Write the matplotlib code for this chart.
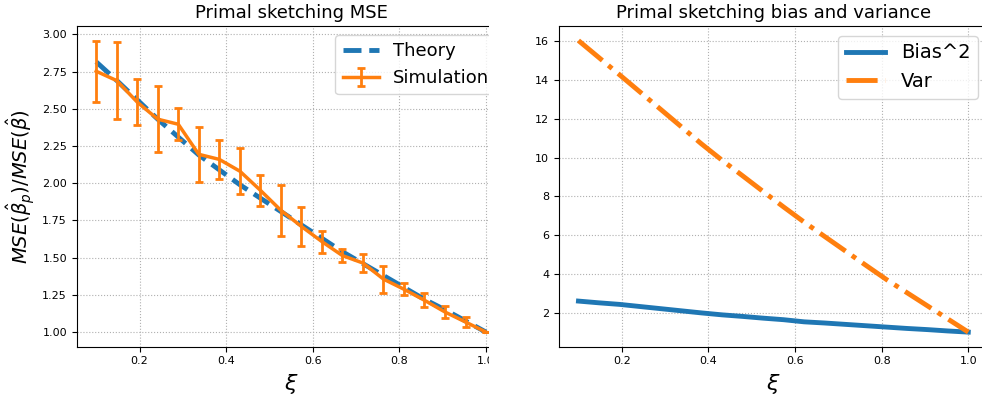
import numpy as np
from matplotlib import pyplot as plt
from matplotlib.patches import Rectangle

# sketch fraction, 20 points from 0.1 to 1.0
xi = [0.1, 0.1474, 0.1947, 0.2421, 0.2895, 0.3368, 0.3842, 0.4316, 0.4789, 0.5263,
      0.5737, 0.6211, 0.6684, 0.7158, 0.7632, 0.8105, 0.8579, 0.9053, 0.9526, 1.0]

mse_theory = [2.815, 2.69, 2.56, 2.43, 2.31, 2.19, 2.09, 1.99, 1.90, 1.81,
              1.72, 1.63, 1.54, 1.46, 1.38, 1.30, 1.22, 1.15, 1.075, 1.0]
mse_sim = [2.752, 2.689, 2.545, 2.43, 2.396, 2.194, 2.16, 2.081, 1.953, 1.818,
           1.71, 1.608, 1.514, 1.464, 1.356, 1.288, 1.214, 1.135, 1.068, 1.0]
mse_err = [0.206, 0.26, 0.152, 0.223, 0.107, 0.186, 0.13, 0.155, 0.104, 0.171,
           0.132, 0.074, 0.044, 0.063, 0.09, 0.04, 0.047, 0.04, 0.036, 0.0]

bias2 = [2.60, 2.51, 2.43, 2.32, 2.21, 2.10, 1.99, 1.89, 1.81, 1.72,
         1.64, 1.53, 1.47, 1.40, 1.33, 1.26, 1.19, 1.13, 1.06, 1.0]
var = [16.03, 15.15, 14.27, 13.38, 12.49, 11.60, 10.70, 9.86, 9.06, 8.25,
       7.45, 6.67, 5.93, 5.19, 4.45, 3.72, 3.04, 2.36, 1.68, 1.0]


def main():
    fig = plt.figure(figsize=(9.82, 3.98), dpi=100)

    ax1 = fig.add_axes([0.0781, 0.1289, 0.4367, 0.8058])
    ax1.plot(xi, mse_theory, '--', color='C0', lw=3.5, label='Theory')
    ax1.errorbar(xi, mse_sim, yerr=mse_err, color='C1', lw=2.5,
                 elinewidth=2, capsize=3, capthick=2, label='Simulation')
    ax1.grid(True, linestyle=':', color='#b0b0b0')
    ax1.set_title('Primal sketching MSE', fontsize=13)
    ax1.set_xlabel(r'$\xi$', fontsize=16)
    ax1.set_ylabel(r'$MSE(\hat{\beta}_p)/MSE(\hat{\beta})$', fontsize=14)
    ax1.tick_params(labelsize=8)
    ax1.legend(loc='upper right', fontsize=13)

    ax2 = fig.add_axes([0.5692, 0.1289, 0.4367, 0.8058])
    ax2.plot(xi, bias2, '-', color='C0', lw=3.5, label='Bias^2')
    ax2.plot(xi, var, '-.', color='C1', lw=3.5, label='Var')
    ax2.grid(True, linestyle=':', color='#b0b0b0')
    ax2.set_title('Primal sketching bias and variance', fontsize=13)
    ax2.set_xlabel(r'$\xi$', fontsize=16)
    ax2.tick_params(labelsize=8)
    ax2.spines['right'].set_visible(False)
    ax2.legend(loc='upper right', fontsize=14)

    # the left panel is cut off on its right side in the original
    fig.patches.append(Rectangle((489 / 982, 0), 40 / 982, 1, transform=fig.transFigure,
                                 facecolor='white', edgecolor='none', zorder=10))

    fig.savefig('out.png', dpi=100)


if __name__ == '__main__':
    main()
